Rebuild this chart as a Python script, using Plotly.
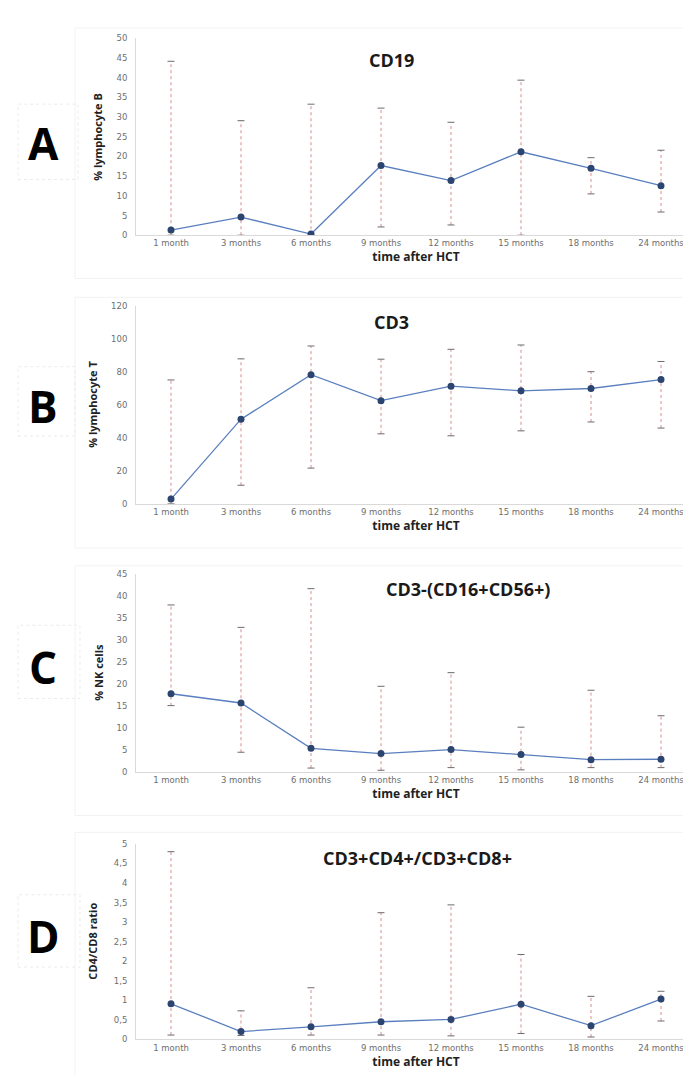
import plotly.graph_objects as go

# ---------------- data ----------------
categories = ["1 month", "3 months", "6 months", "9 months",
              "12 months", "15 months", "18 months", "24 months"]

cd19_value = [1.3, 4.6, 0.3, 17.7, 13.9, 21.2, 17.0, 12.6]
cd19_low   = [0.0, 0.0, 0.0, 2.1, 2.6, 0.0, 10.5, 5.9]
cd19_high  = [44.2, 29.1, 33.3, 32.3, 28.7, 39.4, 19.7, 21.6]

cd3_value = [2.8, 51.3, 78.3, 62.5, 71.3, 68.5, 69.9, 75.3]
cd3_low   = [0.0, 11.2, 21.6, 42.4, 41.2, 44.2, 49.6, 45.9]
cd3_high  = [75.1, 87.9, 95.7, 87.7, 93.7, 96.3, 80.1, 86.3]

nk_value = [17.7, 15.6, 5.3, 4.1, 5.0, 3.9, 2.7, 2.8]
nk_low   = [15.0, 4.4, 0.8, 0.3, 0.9, 0.4, 0.9, 0.9]
nk_high  = [37.9, 32.8, 41.6, 19.4, 22.5, 10.1, 18.5, 12.7]

ratio_value = [0.91, 0.20, 0.32, 0.45, 0.51, 0.90, 0.35, 1.03]
ratio_low   = [0.11, 0.10, 0.11, 0.11, 0.09, 0.15, 0.06, 0.47]
ratio_high  = [4.80, 0.73, 1.32, 3.24, 3.44, 2.17, 1.10, 1.23]

ticks_a = [0, 5, 10, 15, 20, 25, 30, 35, 40, 45, 50]
ticks_b = [0, 20, 40, 60, 80, 100, 120]
ticks_c = [0, 5, 10, 15, 20, 25, 30, 35, 40, 45]
ticks_d = [0, 0.5, 1, 1.5, 2, 2.5, 3, 3.5, 4, 4.5, 5]
ticks_d_text = ["0", "0,5", "1", "1,5", "2", "2,5", "3", "3,5", "4", "4,5", "5"]

panel_letters = ["A", "B", "C", "D"]
panel_titles = ["CD19", "CD3", "CD3-(CD16+CD56+)", "CD3+CD4+/CD3+CD8+"]
y_titles = ["% lymphocyte B", "% lymphocyte T", "% NK cells", "CD4/CD8 ratio"]
x_title = "time after HCT"

# ---------------- layout geometry (pixels) ----------------
W, H = 691, 1075
def px(x):
    return x / W
def py(y):
    return 1 - y / H

panels = [
    dict(v=cd19_value, lo=cd19_low, hi=cd19_high, rng=[0, 50], tv=ticks_a, tt=[str(t) for t in ticks_a],
         top=25.7, bot=224.3, title_xy=(383, 47), letter_y=131, ytitle_x=90,
         frame=(67, 15, 690, 268), lbox=(10, 92, 70, 168)),
    dict(v=cd3_value, lo=cd3_low, hi=cd3_high, rng=[0, 120], tv=ticks_b, tt=[str(t) for t in ticks_b],
         top=295.7, bot=495.3, title_xy=(383, 312), letter_y=397, ytitle_x=85,
         frame=(67, 287, 690, 540), lbox=(10, 357, 67, 427)),
    dict(v=nk_value, lo=nk_low, hi=nk_high, rng=[0, 45], tv=ticks_c, tt=[str(t) for t in ticks_c],
         top=566.0, bot=765.7, title_xy=(460, 581), letter_y=660, ytitle_x=91,
         frame=(67, 558, 690, 810), lbox=(10, 618, 72, 692)),
    dict(v=ratio_value, lo=ratio_low, hi=ratio_high, rng=[0, 5], tv=ticks_d, tt=ticks_d_text,
         top=838.7, bot=1036.0, title_xy=(409, 853), letter_y=932, ytitle_x=85,
         frame=(67, 827, 690, 1074), lbox=(10, 890, 72, 963)),
]

PLOT_L, PLOT_R = 128, 688

fig = go.Figure()
layout = dict(
    width=W, height=H,
    margin=dict(l=0, r=0, t=0, b=0),
    paper_bgcolor="white", plot_bgcolor="white",
    showlegend=False,
    annotations=[], shapes=[],
)

for i, p in enumerate(panels):
    n = "" if i == 0 else str(i + 1)
    xa, ya = "x" + n, "y" + n

    # error bar dashed lines
    ex, ey = [], []
    for c, lo, hi in zip(categories, p["lo"], p["hi"]):
        ex += [c, c, None]
        ey += [lo, hi, None]
    fig.add_trace(go.Scatter(x=ex, y=ey, mode="lines", xaxis=xa, yaxis=ya,
                             line=dict(color="#d98c8c", width=1, dash="3px,3px"),
                             hoverinfo="skip", connectgaps=False))
    # caps
    fig.add_trace(go.Scatter(x=categories + categories, y=p["lo"] + p["hi"], mode="markers",
                             xaxis=xa, yaxis=ya,
                             marker=dict(symbol="line-ew", size=5,
                                         line=dict(color="#6b6b6b", width=1)),
                             hoverinfo="skip"))
    # main line
    fig.add_trace(go.Scatter(x=categories, y=p["v"], mode="lines+markers", xaxis=xa, yaxis=ya,
                             line=dict(color="#5a7fbf", width=1.3),
                             marker=dict(color="#2c4470", size=7)))

    layout["xaxis" + n] = dict(
        domain=[px(PLOT_L), px(PLOT_R)], anchor=ya, type="category",
        categoryorder="array", categoryarray=categories, range=[-0.5, 7.5],
        showline=True, linecolor="#d9d9d9", linewidth=1, showgrid=False, zeroline=False,
        ticks="", tickfont=dict(family="DejaVu Sans", size=8.5, color="#6e6e6e"),
        title=dict(text=x_title, font=dict(family="Open Sans", size=12, color="#222222", weight="bold"),
                   standoff=2),
    )
    layout["yaxis" + n] = dict(
        domain=[py(p["bot"]), py(p["top"])], anchor=xa, range=p["rng"],
        tickvals=p["tv"], ticktext=p["tt"],
        showline=True, linecolor="#d9d9d9", linewidth=1, showgrid=False, zeroline=False,
        ticks="outside", ticklen=6, tickcolor="rgba(0,0,0,0)",
        tickfont=dict(family="DejaVu Sans", size=8.5, color="#6e6e6e"),
    )

    # panel title
    layout["annotations"].append(dict(
        text=panel_titles[i], x=px(p["title_xy"][0]), y=py(p["title_xy"][1]),
        xref="paper", yref="paper", showarrow=False, xanchor="center", yanchor="middle",
        font=dict(family="Open Sans", size=18, color="#1a1a1a", weight="bold")))
    # panel letter
    layout["annotations"].append(dict(
        text=panel_letters[i], x=px(35), y=py(p["letter_y"]),
        xref="paper", yref="paper", showarrow=False, xanchor="center", yanchor="middle",
        font=dict(family="Open Sans", size=44, color="#000000", weight="bold")))
    # y axis title
    layout["annotations"].append(dict(
        text=y_titles[i], x=px(p["ytitle_x"]), y=py((p["top"] + p["bot"]) / 2),
        xref="paper", yref="paper", showarrow=False, textangle=-90,
        xanchor="center", yanchor="middle",
        font=dict(family="Open Sans", size=11, color="#222222", weight="bold")))
    # faint panel frame
    fx0, fy0, fx1, fy1 = p["frame"]
    layout["shapes"].append(dict(type="rect", xref="paper", yref="paper",
                                 x0=px(fx0), x1=px(fx1), y0=py(fy1), y1=py(fy0),
                                 line=dict(color="#f2f2f2", width=1)))
    bx0, by0, bx1, by1 = p["lbox"]
    layout["shapes"].append(dict(type="rect", xref="paper", yref="paper",
                                 x0=px(bx0), x1=px(bx1), y0=py(by1), y1=py(by0),
                                 line=dict(color="#ebebeb", width=1, dash="dot")))

fig.update_layout(**layout)
fig.write_html("out.html")
